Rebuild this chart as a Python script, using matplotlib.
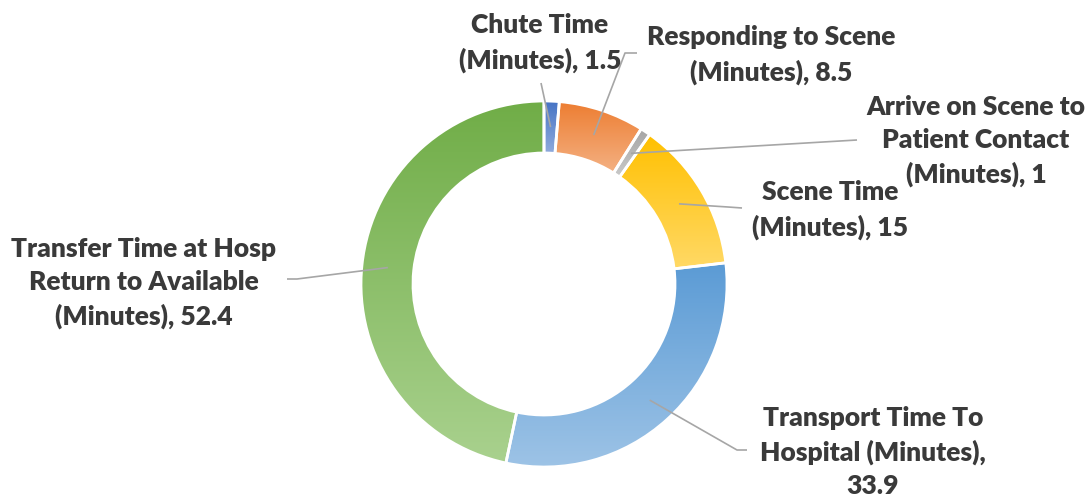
import numpy as np
import matplotlib.pyplot as plt
from matplotlib.colors import LinearSegmentedColormap

# data
names = ['Chute Time\n(Minutes)', 'Responding to Scene\n(Minutes)',
         'Arrive on Scene to\nPatient Contact\n(Minutes)', 'Scene Time\n(Minutes)',
         'Transport Time To\nHospital (Minutes)', 'Transfer Time at Hosp\nReturn to Available\n(Minutes)']
values = [1.5, 8.5, 1, 15, 33.9, 52.4]
seps = [', ', ', ', ', ', ', ', ',\n', ', ']
top_colors = ['#4472C4', '#ED7D31', '#A5A5A5', '#FFC000', '#5B9BD5', '#70AD47']
bottom_colors = ['#8FAADC', '#F4B183', '#C9C9C9', '#FFD966', '#9DC3E6', '#A9D18E']

W, H = 1090, 498
cx, cy, R, ring = 544, H - 284, 183, 52

# label block centres and leader elbows, pixel coords from top
label_xy = [(540, 43), (771, 55), (976, 141), (830, 210), (873, 452), (144, 283)]
leaders = [[(541, 83)], [(637, 53), (625, 53)], [(857, 140)],
           [(742, 208), (728, 207)], [(747, 450), (737, 450)], [(287, 279), (297, 279)]]

fig = plt.figure(figsize=(W / 100, H / 100), dpi=100)
ax = fig.add_axes([0, 0, 1, 1])

wedges, _ = ax.pie(values, startangle=90, counterclock=False, radius=R, center=(cx, cy),
                   wedgeprops=dict(width=ring, edgecolor='white', linewidth=2))

for i, w in enumerate(wedges):
    w.set_facecolor('none')
    w.set_zorder(2)
    ext = w.get_path().get_extents()
    cmap = LinearSegmentedColormap.from_list('g%d' % i, [top_colors[i], bottom_colors[i]])
    grad = np.linspace(0, 1, 256).reshape(-1, 1)
    im = ax.imshow(grad, cmap=cmap, extent=[ext.x0, ext.x1, ext.y0, ext.y1],
                   origin='upper', aspect='auto', zorder=1, interpolation='bilinear')
    im.set_clip_path(w)

    # leader line to ring middle
    mid = np.deg2rad((w.theta1 + w.theta2) / 2)
    rm = R - ring / 2
    pts = [(x, H - y) for x, y in leaders[i]]
    pts.append((cx + rm * np.cos(mid), cy + rm * np.sin(mid)))
    xs, ys = zip(*pts)
    ax.plot(xs, ys, color='#A6A6A6', lw=1.2, zorder=3, solid_capstyle='butt')

    lx, ly = label_xy[i]
    ax.text(lx, H - ly, names[i] + seps[i] + '%g' % values[i], ha='center', va='center',
            fontsize=19, fontweight='heavy', family='Lato', color='#3A3A3A',
            linespacing=1.45, zorder=4)

ax.set_xlim(0, W)
ax.set_ylim(0, H)
ax.set_aspect('equal')
ax.axis('off')

fig.savefig('out.png', dpi=100, facecolor='white')
